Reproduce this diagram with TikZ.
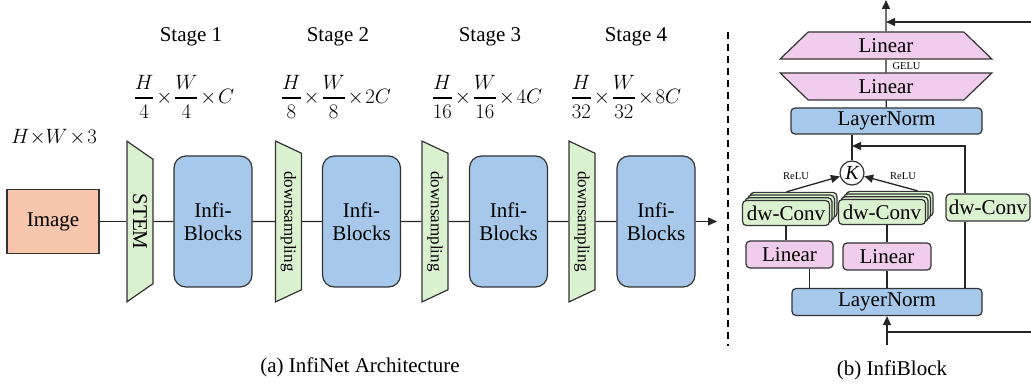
\documentclass[tikz,border=0pt]{standalone}
\usepackage{amsmath}
\usepackage{fontspec}
\setmainfont{Liberation Serif}
\usetikzlibrary{shapes.geometric, arrows.meta}

\definecolor{ImgPeach}{RGB}{247,198,172}
\definecolor{BlockBlue}{RGB}{166,201,235}
\definecolor{ConvGreen}{RGB}{218,242,208}
\definecolor{LinPink}{RGB}{241,205,237}

\newcommand{\mainsize}{\fontsize{21}{23}\selectfont}
\newcommand{\downsize}{\fontsize{17}{19}\selectfont}
\newcommand{\tinysize}{\fontsize{10.5}{12}\selectfont}
\newcommand{\mathsize}{\fontsize{21}{23}\selectfont\medmuskip=1.5mu}
\newcommand{\stagefrac}[2]{\genfrac{}{}{2pt}{0}{#1}{#2}}

\tikzset{
    edge/.style={line width=1.3pt, draw=black!85},
    arr/.style={-{Triangle[length=9pt, width=8pt]}},
    outline/.style={line width=1.2pt, draw=black!80, inner sep=0pt, font=\mainsize},
    imgbox/.style={outline, fill=ImgPeach, minimum width=92pt, minimum height=64pt},
    stembox/.style={outline, fill=ConvGreen, trapezium, trapezium angle=60,
        trapezium stretches=true, minimum width=161pt, minimum height=26pt, rotate=-90},
    downbox/.style={stembox, font=\downsize},
    blockbox/.style={outline, fill=BlockBlue, rounded corners=12pt, align=center,
        minimum width=78pt, minimum height=131pt},
    convbox/.style={outline, fill=ConvGreen, rounded corners=4pt,
        minimum width=87pt, minimum height=25pt},
    linbox/.style={outline, fill=LinPink, rounded corners=4pt,
        minimum width=87pt, minimum height=27pt},
    normbox/.style={outline, fill=BlockBlue, rounded corners=4pt,
        minimum width=190pt, minimum height=27pt},
    mlpbox/.style={outline, fill=LinPink, trapezium, trapezium angle=55,
        trapezium stretches=true, minimum width=212pt, minimum height=27pt}
}

\begin{document}
\begin{tikzpicture}[x=1pt, y=-1pt]
    \useasboundingbox (0,0) rectangle (1031,387);

    % InfiNet --  --  --  --  --  --  --  --  --  --  --  --  --  --  --
    % input image and stem
    \node[imgbox] (img) at (53,221.5) {Image};
    \node[font=\mathsize] (insize) at (54,137) {$H{\times}W\times 3$};
    \node[stembox] (stem) at (140,221.5) {STEM};

    % four stages
    \node[blockbox] (b1) at (213,221.5) {Infi-\\Blocks};
    \node[downbox] (d1) at (288.5,221.5) {downsampling};
    \node[blockbox] (b2) at (361.5,221.5) {Infi-\\Blocks};
    \node[downbox] (d2) at (435,221.5) {downsampling};
    \node[blockbox] (b3) at (508.5,221.5) {Infi-\\Blocks};
    \node[downbox] (d3) at (582,221.5) {downsampling};
    \node[blockbox] (b4) at (656,221.5) {Infi-\\Blocks};
    \coordinate (netout) at (717,221.5);

    % stage titles and feature sizes
    \node[font=\mainsize] (s1) at (191,37) {Stage 1};
    \node[font=\mainsize] (s2) at (338,37) {Stage 2};
    \node[font=\mainsize] (s3) at (490,37) {Stage 3};
    \node[font=\mainsize] (s4) at (636,37) {Stage 4};
    \node[font=\mathsize] (f1) at (184,97) {$\stagefrac{H}{4}\times\stagefrac{W}{4}\times C$};
    \node[font=\mathsize] (f2) at (336,97) {$\stagefrac{H}{8}\times\stagefrac{W}{8}\times 2C$};
    \node[font=\mathsize] (f3) at (487,97) {$\stagefrac{H}{16}\times\stagefrac{W}{16}\times 4C$};
    \node[font=\mathsize] (f4) at (626,97) {$\stagefrac{H}{32}\times\stagefrac{W}{32}\times 8C$};

    \draw[edge] (img) -- (stem);
    \draw[edge] (stem) -- (b1);
    \draw[edge] (b1) -- (d1);
    \draw[edge] (d1) -- (b2);
    \draw[edge] (b2) -- (d2);
    \draw[edge] (d2) -- (b3);
    \draw[edge] (b3) -- (d3);
    \draw[edge] (d3) -- (b4);
    \draw[edge, arr] (b4) -- (netout);

    \node[font=\mainsize] (capa) at (360,367) {(a) InfiNet Architecture};
    %  --  --  --  --  --  --  --  --  --  --  --  --  --  --  --  --

    % separator
    \coordinate (septop) at (728,32);
    \coordinate (sepbot) at (728,346);
    \draw[line width=1.8pt, dash pattern=on 7pt off 5pt] (septop) -- (sepbot);

    % InfiBlock --  --  --  --  --  --  --  --  --  --  --  --  --  --
    % token mixer
    \node[normbox] (ln1) at (887,302) {LayerNorm};
    \node[linbox] (lina) at (789.5,254.5) {Linear};
    \node[linbox, minimum width=88pt] (linb) at (887,256.5) {Linear};

    % stacked depth-wise convolutions
    \foreach \k in {3,2,1} {
        \node[convbox] (dwa-\k) at (786+2.5*\k, 213-2.7*\k) {};
        \node[convbox] (dwb-\k) at (882+2.5*\k, 212-2.7*\k) {};
    }
    \node[convbox] (dwa) at (786,213) {dw-Conv};
    \node[convbox] (dwb) at (882,212) {dw-Conv};
    \node[convbox, minimum width=84pt, minimum height=27pt] (dwc) at (988,207.5) {dw-Conv};

    \node[circle, draw=black!80, line width=1.2pt, fill=white, minimum size=24pt,
        inner sep=0pt, font=\fontsize{20}{22}\selectfont\itshape] (kop) at (852,173) {K};
    \node[font=\tinysize] (relul) at (796,176) {ReLU};
    \node[font=\tinysize] (relur) at (903,176) {ReLU};

    % channel mixer
    \node[normbox, minimum width=191pt, minimum height=26pt] (ln2) at (886.5,121) {LayerNorm};
    \node[mlpbox, shape border rotate=180] (lin1) at (886,86.5) {Linear};
    \node[mlpbox] (lin2) at (886,45.5) {Linear};
    \node[font=\tinysize, anchor=west] (gelu) at (889,66) {GELU};

    % connections
    \coordinate (blockin) at (887,345);
    \coordinate (skipout) at (1031,332);
    \coordinate (tap) at (965,146);
    \coordinate (merge) at (852,146);
    \coordinate (blockout) at (886,0);
    \coordinate (skipin) at (1031,22);

    \draw[edge, arr] (ln1.south |- blockin) -- (ln1.south);
    \draw[edge] (ln1.south |- skipout) -- (skipout);

    \draw[edge] ([xshift=20pt]lina.south) -- ([xshift=20pt]lina.south |- ln1.north);
    \draw[edge] (linb.south) -- (linb.south |- ln1.north);
    \draw[edge] (ln1.north -| tap) -- (dwc.south -| tap);
    \draw[edge] (dwa.south) -- (dwa.south |- lina.north);
    \draw[edge] (linb.north) -- (linb.north |- dwb.south);

    \draw[edge, arr] ([xshift=-7pt]dwa-3.north) -- (kop);
    \draw[edge, arr] ([xshift=28pt]dwb-3.north) -- (kop);
    \draw[edge] (kop) -- (kop |- ln2.south);
    \draw[edge, arr] (dwc.north -| tap) -- (tap) -- (merge);

    \draw[edge] (ln2) -- (lin1);
    \draw[edge] (lin1) -- (lin2);
    \draw[edge, arr] (lin2.north) -- (blockout);
    \draw[edge, arr] (skipin) -- (skipin -| blockout);

    \node[font=\mainsize] (capb) at (892,370) {(b) InfiBlock};
    %  --  --  --  --  --  --  --  --  --  --  --  --  --  --  --  --
\end{tikzpicture}
\end{document}
